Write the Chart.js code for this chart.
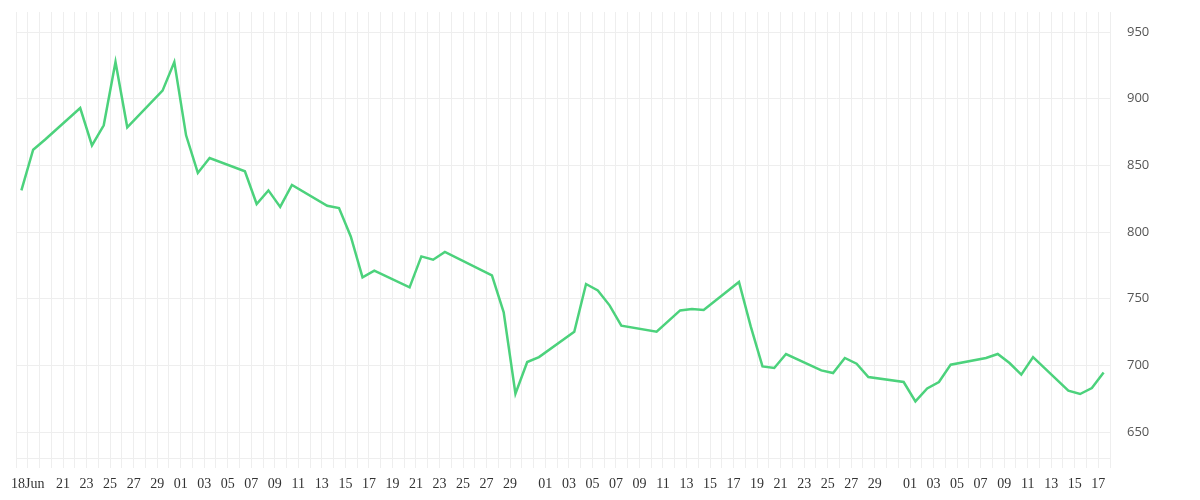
<!DOCTYPE html>
<html>
<head>
<meta charset="utf-8">
<script src="https://cdn.jsdelivr.net/npm/chart.js@4/dist/chart.umd.min.js"></script>
<style>
  html, body { margin: 0; padding: 0; background: #ffffff; }
  #wrap { width: 1200px; height: 500px; position: relative; }
</style>
</head>
<body>
<div id="wrap"><canvas id="c"></canvas></div>
<script>
// ---- data (2020) ----
const dates = [
  '06-17','06-18','06-19','06-22','06-23','06-24','06-25','06-26','06-29','06-30',
  '07-01','07-02','07-03','07-06','07-07','07-08','07-09','07-10','07-13','07-14',
  '07-15','07-16','07-17','07-20','07-21','07-22','07-23','07-27','07-28','07-29',
  '07-30','07-31','08-03','08-04','08-05','08-06','08-07','08-10','08-12','08-13',
  '08-14','08-17','08-18','08-19','08-20','08-21','08-24','08-25','08-26','08-27',
  '08-28','08-31','09-01','09-02','09-03','09-04','09-07','09-08','09-09','09-10',
  '09-11','09-14','09-15','09-16','09-17'
];
const prices = [
  831.2, 861.7, 869.2, 893.0, 865.0, 880.0, 927.5, 878.5, 906.0, 927.5,
  872.5, 844.3, 855.5, 845.5, 821.0, 831.2, 818.8, 835.3, 819.7, 818.0,
  796.7, 766.0, 771.0, 758.5, 781.7, 779.2, 785.0, 767.5, 739.7, 678.7,
  702.5, 706.2, 725.2, 761.0, 756.2, 745.0, 729.7, 725.2, 741.2, 742.2,
  741.5, 762.5, 729.2, 699.2, 698.0, 708.5, 696.2, 694.2, 705.5, 701.2,
  691.2, 687.5, 673.0, 682.7, 687.5, 700.5, 705.5, 708.5, 701.7, 693.0,
  706.2, 681.0, 678.5, 683.0, 694.7
];
const tickDates = [
  '06-18','06-21','06-23','06-25','06-27','06-29',
  '07-01','07-03','07-05','07-07','07-09','07-11','07-13','07-15','07-17','07-19','07-21','07-23','07-25','07-27','07-29',
  '08-01','08-03','08-05','08-07','08-09','08-11','08-13','08-15','08-17','08-19','08-21','08-23','08-25','08-27','08-29',
  '09-01','09-03','09-05','09-07','09-09','09-11','09-13','09-15','09-17'
];
const tickTexts = [
  '18Jun','21','23','25','27','29',
  '01','03','05','07','09','11','13','15','17','19','21','23','25','27','29',
  '01','03','05','07','09','11','13','15','17','19','21','23','25','27','29',
  '01','03','05','07','09','11','13','15','17'
];
const yTicks = [650, 700, 750, 800, 850, 900, 950];
const axisStart = '06-17';
const axisEnd = '09-18';
const sampleHour = 11;
const yMin = 630.5, yMax = 965;

// ---- helpers ----
const YEAR = 2020;
function dayIndex(s) {
  const [m, d] = s.split('-').map(Number);
  const [m0, d0] = axisStart.split('-').map(Number);
  return (Date.UTC(YEAR, m - 1, d) - Date.UTC(YEAR, m0 - 1, d0)) / 86400000;
}
const labelMap = {};
tickDates.forEach((s, i) => { labelMap[dayIndex(s)] = tickTexts[i]; });
const lastDay = dayIndex(axisEnd);
const points = dates.map((s, i) => ({ x: dayIndex(s) + sampleHour / 24, y: prices[i] }));

const gridColor = '#eeeeee';

new Chart(document.getElementById('c'), {
  type: 'line',
  data: {
    datasets: [{
      data: points,
      borderColor: '#4cd27c',
      borderWidth: 2.5,
      pointRadius: 0,
      pointHoverRadius: 0,
      tension: 0,
      fill: false
    }]
  },
  options: {
    responsive: true,
    maintainAspectRatio: false,
    animation: false,
    devicePixelRatio: 1,
    layout: { padding: { left: 16, top: 12, right: 0, bottom: 0 } },
    plugins: { legend: { display: false }, tooltip: { enabled: false } },
    scales: {
      x: {
        type: 'linear',
        min: 0,
        max: lastDay,
        afterBuildTicks: (scale) => {
          const t = [];
          for (let d = 0; d <= lastDay; d++) t.push({ value: d });
          scale.ticks = t;
        },
        afterFit: (scale) => {
          scale.height = 42;
          scale.paddingLeft = 0; scale.paddingRight = 0;
          scale.paddingTop = 0; scale.paddingBottom = 0;
        },
        grid: { color: gridColor, tickLength: 10, drawTicks: true },
        border: { color: gridColor },
        ticks: {
          autoSkip: false,
          maxRotation: 0,
          minRotation: 0,
          padding: 8,
          color: '#333333',
          font: { family: 'Liberation Serif', size: 14 },
          callback: (v) => (labelMap[v] !== undefined ? labelMap[v] : '')
        }
      },
      y: {
        position: 'right',
        min: yMin,
        max: yMax,
        afterBuildTicks: (scale) => { scale.ticks = yTicks.map(v => ({ value: v })); },
        afterFit: (scale) => {
          scale.width = 90;
          scale.paddingLeft = 0; scale.paddingRight = 0;
          scale.paddingTop = 0; scale.paddingBottom = 0;
        },
        grid: { color: gridColor, drawTicks: false },
        border: { color: gridColor },
        ticks: {
          padding: 17,
          color: '#555555',
          font: { family: 'Open Sans', size: 13 }
        }
      }
    }
  }
});
</script>
</body>
</html>
